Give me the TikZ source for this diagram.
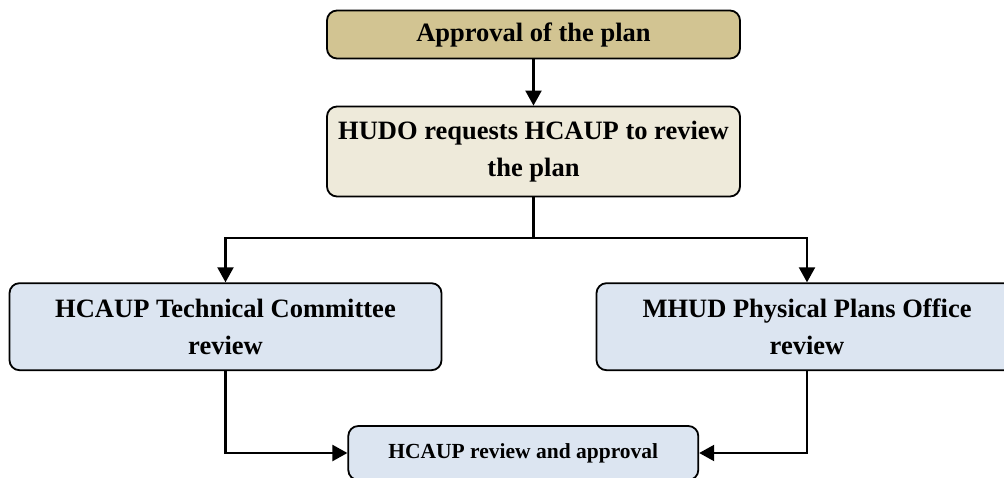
\documentclass[tikz,border=0pt]{standalone}
\usepackage{fontspec}
\setmainfont{Liberation Serif}
\usetikzlibrary{arrows.meta,positioning}
\definecolor{tanfill}{RGB}{210,196,146}
\definecolor{creamfill}{RGB}{238,234,218}
\definecolor{bluefill}{RGB}{220,229,241}
\tikzset{
  blk/.style={draw,rectangle,rounded corners=10pt,line width=1.8pt,align=center,inner sep=0pt,font=\fontsize{26.5}{36.5}\selectfont\bfseries},
  tanblk/.style={blk,fill=tanfill,minimum width=413pt,minimum height=48pt},
  creamblk/.style={blk,fill=creamfill,minimum width=413pt,minimum height=90pt},
  blueblk/.style={blk,fill=bluefill,minimum height=87pt},
  smallblk/.style={blk,fill=bluefill,minimum width=350pt,minimum height=54pt,font=\fontsize{21.5}{26}\selectfont\bfseries},
  arr/.style={-{Triangle[length=15pt,width=16pt]},line width=2.2pt},
  ln/.style={line width=2.2pt}
}
\begin{document}
\begin{tikzpicture}[x=1pt,y=-1pt]
  \useasboundingbox (0,0) rectangle (1004,477);
  \node[tanblk] (appr) at (533.5,34.5) {Approval of the plan};
  \node[creamblk] (hudo) at (533.5,151.5) {HUDO requests HCAUP to review\\the plan};
  \node[blueblk, minimum width=432pt] (tech) at (225.5,326.7) {HCAUP Technical Committee\\review};
  \node[blueblk, minimum width=421pt] (mhud) at (807,326.7) {MHUD Physical Plans Office\\review};
  \node[smallblk] (fin) at (523.3,453) {HCAUP review and approval};
  \coordinate (split) at (533.5,238);

  \draw[arr] (appr) -- (hudo);
  \draw[ln] (hudo) -- (split);
  \draw[arr] (split) -| (tech);
  \draw[arr] (split) -| (mhud);
  \draw[arr] (tech) |- (fin);
  \draw[arr] (mhud) |- (fin);
\end{tikzpicture}
\end{document}
